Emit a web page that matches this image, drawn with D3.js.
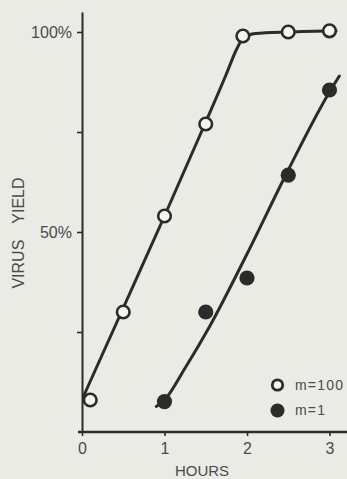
<!DOCTYPE html>
<html>
<head>
<meta charset="utf-8">
<script src="https://cdn.jsdelivr.net/npm/d3@7"></script>
<style>
  html, body { margin: 0; padding: 0; background: #ebebe6; }
  svg { display: block; }
  text { font-family: "Liberation Sans", Arial, sans-serif; fill: #4a4a4a; }
</style>
</head>
<body>
<svg id="chart" width="347" height="479"></svg>
<script>
// Measured virus yield (% of final) against time after infection (hours)
const hoursHigh = [0.1, 0.5, 1.0, 1.5, 1.95, 2.5, 3.0];
const yieldHigh = [8, 30, 54, 77, 99, 100, 100.3];
const hoursLow = [1.0, 1.5, 2.0, 2.5, 3.0];
const yieldLow = [7.6, 30, 38.5, 64.2, 85.5];

// Hand-drawn smooth curves through each series
const curveHoursHigh = [0.02, 0.5, 1.0, 1.5, 1.75, 1.87, 1.96, 2.1, 2.5, 3.08];
const curveYieldHigh = [9, 31, 54, 77.5, 89.5, 95.5, 98.6, 99.6, 100, 100.3];
const curveHoursLow = [0.9, 1.0, 1.25, 1.55, 2.0, 2.5, 3.0, 3.12];
const curveYieldLow = [6.4, 8, 16, 26.5, 44.5, 65.5, 85, 89];

const xTicks = [0, 1, 2, 3];
const yTicks = [25, 50, 75, 100];
const yTickLabels = { 50: "50%", 100: "100%" };
const legendLabels = ["m=100", "m=1"];

const ink = "#2b2b2b";
const svg = d3.select("#chart");

const x = d3.scaleLinear().domain([0, 3.2]).range([82, 346]);
const y = d3.scaleLinear().domain([0, 105]).range([432, 12]);

// Y axis
const yAxis = svg.append("g")
  .attr("transform", `translate(${x(0)},0)`)
  .call(d3.axisLeft(y).tickValues(yTicks).tickSize(5).tickSizeOuter(0).tickPadding(5)
    .tickFormat(d => yTickLabels[d] || ""));
yAxis.select(".domain").attr("stroke", ink).attr("stroke-width", 2);
yAxis.selectAll(".tick line").attr("stroke", ink).attr("stroke-width", 1.6);
yAxis.selectAll(".tick text").attr("font-size", 16).attr("fill", "#4a4a4a")
  .attr("font-family", "Liberation Sans, Arial, sans-serif");

// X axis
const xAxis = svg.append("g")
  .attr("transform", `translate(0,${y(0)})`)
  .call(d3.axisBottom(x).tickValues(xTicks).tickSize(4).tickSizeOuter(0).tickPadding(7)
    .tickFormat(d3.format("d")));
xAxis.select(".domain").attr("stroke", ink).attr("stroke-width", 2.4)
  .attr("d", `M${x.range()[0] - 4},0H${x.range()[1] + 1}`);
xAxis.selectAll(".tick line").attr("stroke", ink).attr("stroke-width", 1.6);
xAxis.selectAll(".tick text").attr("font-size", 16).attr("fill", "#4a4a4a")
  .attr("font-family", "Liberation Sans, Arial, sans-serif");

// Axis titles
svg.append("text")
  .attr("x", 202).attr("y", 476)
  .attr("text-anchor", "middle").attr("font-size", 15)
  .text("HOURS");

const yTitle = svg.append("text")
  .attr("transform", "translate(24,233) rotate(-90)")
  .attr("text-anchor", "middle").attr("font-size", 16);
yTitle.append("tspan").text("VIRUS");
yTitle.append("tspan").attr("dx", 16).text("YIELD");

// Curves
const line = d3.line().x(d => x(d[0])).y(d => y(d[1])).curve(d3.curveMonotoneX);
const curveHigh = d3.zip(curveHoursHigh, curveYieldHigh);
const curveLow = d3.zip(curveHoursLow, curveYieldLow);
[curveHigh, curveLow].forEach(c => {
  svg.append("path").datum(c).attr("d", line)
    .attr("fill", "none").attr("stroke", ink).attr("stroke-width", 3)
    .attr("stroke-linecap", "round");
});

// Data points
svg.append("g").selectAll("circle")
  .data(d3.zip(hoursHigh, yieldHigh)).join("circle")
  .attr("cx", d => x(d[0])).attr("cy", d => y(d[1])).attr("r", 6.3)
  .attr("fill", "#f4f4f0").attr("stroke", ink).attr("stroke-width", 2.6);

svg.append("g").selectAll("circle")
  .data(d3.zip(hoursLow, yieldLow)).join("circle")
  .attr("cx", d => x(d[0])).attr("cy", d => y(d[1])).attr("r", 7.6)
  .attr("fill", ink);

// Legend
const legend = svg.append("g");
legend.append("circle").attr("cx", 277.5).attr("cy", 385).attr("r", 5.2)
  .attr("fill", "#f4f4f0").attr("stroke", ink).attr("stroke-width", 2.8);
legend.append("circle").attr("cx", 277.5).attr("cy", 410.5).attr("r", 7)
  .attr("fill", ink);
legend.selectAll("text").data(legendLabels).join("text")
  .attr("x", 295).attr("y", (d, i) => 385 + i * 25.5)
  .attr("dy", "0.35em").attr("font-size", 14).attr("letter-spacing", 1.2)
  .text(d => d);
</script>
</body>
</html>
